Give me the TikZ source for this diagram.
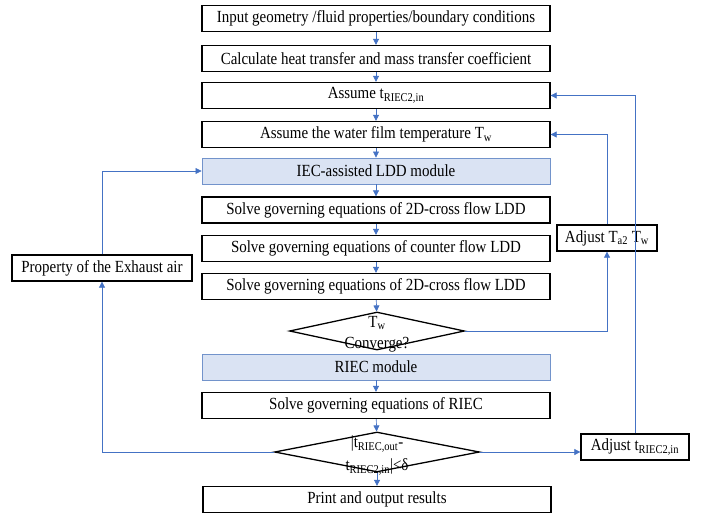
\documentclass[tikz,border=0pt]{standalone}
\usepackage{fontspec}
\setmainfont{Liberation Serif}[FakeStretch=0.88]
\usetikzlibrary{arrows.meta,shapes.geometric}
\definecolor{lblue}{HTML}{4472C4}
\definecolor{bfill}{HTML}{DAE3F3}
\definecolor{bdraw}{HTML}{7293CB}
\newcommand\sbs[1]{\textsubscript{#1}}
\begin{document}
\begin{tikzpicture}[x=1pt,y=-1pt,
  txt/.style={font=\fontsize{17}{19}\selectfont},
  box/.style={txt,draw=black,line width=1.3pt,minimum width=348pt,minimum height=26pt,inner sep=0pt},
  mbox/.style={box,draw=bdraw,line width=0.9pt,fill=bfill},
  sbox/.style={txt,draw=black,line width=1.3pt,minimum height=26pt,inner sep=0pt},
  dia/.style={draw=black,line width=1.3pt,diamond,inner sep=0pt},
  arr/.style={draw=lblue,line width=0.7pt,-{Triangle[length=6pt,width=6pt]}}
]
\useasboundingbox (0,0) rectangle (708,513);
\node[box]  (b1) at (376,18.5)  {Input geometry /fluid properties/boundary conditions};
\node[box]  (b2) at (376,58.5)  {Calculate heat transfer and mass transfer coefficient};
\node[box]  (b3) at (376,95.5)  {Assume t\sbs{RIEC2,in}};
\node[box]  (b4) at (376,134.5) {Assume the water film temperature T\sbs{w}};
\node[mbox] (b5) at (376,171)   {IEC-assisted LDD module};
\node[box]  (b6) at (376,210)   {Solve governing equations of 2D-cross flow LDD};
\node[box]  (b7) at (376,248.5) {Solve governing equations of counter flow LDD};
\node[box]  (b8) at (376,286.5) {Solve governing equations of 2D-cross flow LDD};
\node[dia,minimum width=175pt,minimum height=38pt] (d1) at (377,331) {};
\node[txt,inner sep=1pt] (d1a) at (377,323) {T\sbs{w}};
\node[txt,inner sep=1pt] (d1b) at (377,345) {Converge?};
\node[mbox] (b9) at (376,367)   {RIEC module};
\node[box]  (b10) at (376,405.5) {Solve governing equations of RIEC};
\node[dia,minimum width=205pt,minimum height=40pt] (d2) at (377,452) {};
\node[txt,inner sep=1pt] (d2a) at (377,444) {|t\sbs{RIEC,out}-};
\node[txt,inner sep=1pt] (d2b) at (377,467) {t\sbs{RIEC2,in}|<δ};
\node[box]  (b11) at (377,499.5) {Print and output results};
\node[sbox,minimum width=180pt] (prop) at (102,268) {Property of the Exhaust air};
\node[sbox,minimum width=100pt] (adjA) at (607,238) {Adjust T\sbs{a2} T\sbs{w}};
\node[sbox,minimum width=108pt] (adjT) at (635,447) {Adjust t\sbs{RIEC2,in}};
\draw[arr] (b1) -- (b2);
\draw[arr] (b2) -- (b3);
\draw[arr] (b3) -- (b4);
\draw[arr] (b4) -- (b5);
\draw[arr] (b5) -- (b6);
\draw[arr] (b6) -- (b7);
\draw[arr] (b7) -- (b8);
\draw[arr] (b8) -- (d1);
\draw[arr] (b9) -- (b10);
\draw[arr] (b10) -- (d2);
\draw[arr] (d2) -- (b11);
\draw[arr] (d1.east) -| (adjA.south);
\draw[arr] (adjA.north) |- (b4.east);
\draw[arr] (d2.east) -- (d2.east -| adjT.west);
\draw[arr] (adjT.north) |- (b3.east);
\draw[arr] (d2.west) -| (prop.south);
\draw[arr] (prop.north) |- (b5.west);
\end{tikzpicture}
\end{document}
